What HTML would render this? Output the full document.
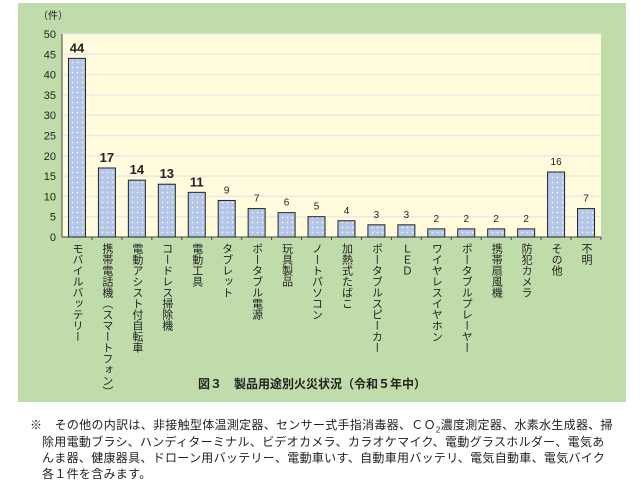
<!DOCTYPE html>
<html><head><meta charset="utf-8"><style>
body{margin:0;width:640px;height:480px;background:#fff;position:relative;overflow:hidden;font-family:"Liberation Sans","Noto Sans CJK JP",sans-serif}
#panel{position:absolute;left:18px;top:3px;width:608px;height:399px;background:#c1dcab}
.note{position:absolute;font-size:12px;color:#222;white-space:nowrap;letter-spacing:0.3px}
</style></head><body>
<div id="panel"></div>
<svg id="chart" width="640" height="480" style="position:absolute;left:0;top:0">
<defs><pattern id="dots" width="5" height="5" patternUnits="userSpaceOnUse"><rect width="5" height="5" fill="#b5c7e8"/><circle cx="2.5" cy="2.5" r="0.7" fill="#fff"/></pattern></defs>
</svg>
<div class="note" style="left:30px;top:416px">※　その他の内訳は、非接触型体温測定器、センサー式手指消毒器、ＣＯ<sub style="font-size:8px">2</sub>濃度測定器、水素水生成器、掃</div>
<div class="note" style="left:42px;top:433px">除用電動ブラシ、ハンディターミナル、ビデオカメラ、カラオケマイク、電動グラスホルダー、電気あ</div>
<div class="note" style="left:42px;top:449px">んま器、健康器具、ドローン用バッテリー、電動車いす、自動車用バッテリ、電気自動車、電気バイク</div>
<div class="note" style="left:42px;top:465px">各１件を含みます。</div>
<script>
const categories=["モバイルバッテリー","携帯電話機（スマートフォン）","電動アシスト付自転車","コードレス掃除機","電動工具","タブレット","ポータブル電源","玩具製品","ノートパソコン","加熱式たばこ","ポータブルスピーカー","ＬＥＤ","ワイヤレスイヤホン","ポータブルプレーヤー","携帯扇風機","防犯カメラ","その他","不明"];
const values=[44,17,14,13,11,9,7,6,5,4,3,3,2,2,2,2,16,7];
const yTicks=[0,5,10,15,20,25,30,35,40,45,50];
const svg=document.getElementById('chart');
const NS='http://www.w3.org/2000/svg';
const X0=62,X1=601,Y0=237,Y1=34,YMAX=50;
const y=v=>Y0-(v/YMAX)*(Y0-Y1);
const step=(X1-X0)/categories.length;
const xc=i=>X0+step*(i+0.5);
function mk(t,a){const e=document.createElementNS(NS,t);for(const k in a)e.setAttribute(k,a[k]);svg.appendChild(e);return e;}
const bg=mk('rect',{x:X0,y:Y1,width:X1-X0,height:Y0-Y1,fill:'#fffbdc'});


yTicks.forEach(t=>{
 if(t>0){const g=mk('line',{x1:X0,x2:X1,y1:y(t),y2:y(t),stroke:'#e6ebe6','stroke-width':1.5});
 
 }
 const l=mk('text',{x:56,y:y(t)+4,'text-anchor':'end','font-size':11,fill:'#222'});l.textContent=t;
 
 
});
const u=mk('text',{x:38,y:19,'font-size':10,fill:'#222'});u.textContent='（件）';


const ax=mk('line',{x1:X0,x2:X0,y1:Y1,y2:Y0,stroke:'#444','stroke-width':1});


const bx=mk('line',{x1:X0,x2:X1,y1:Y0,y2:Y0,stroke:'#444','stroke-width':1});


categories.forEach((c,i)=>{
 const v=values[i],bw=17;
 const r=mk('rect',{x:xc(i)-bw/2,y:y(v),width:bw,height:Y0-y(v),fill:'url(#dots)',stroke:'#222','stroke-width':1});
 
 
 const big=i<5;
 const t=mk('text',{x:xc(i),y:y(v)-(big?6:7),'text-anchor':'middle','font-size':big?13:10,'font-weight':big?'bold':'normal',fill:'#222'});t.textContent=v;
 
 
 const tk=mk('line',{x1:X0+step*(i+1),x2:X0+step*(i+1),y1:Y0,y2:Y0+3,stroke:'#444'});
 
 
 const cl=mk('text',{x:xc(i),y:243,'font-size':11,fill:'#222','writing-mode':'vertical-rl'});cl.textContent=c;
 
 
});
const ti=mk('text',{x:198,y:388,'font-size':12,'font-weight':'bold',fill:'#222'});ti.textContent='図３　製品用途別火災状況（令和５年中）';


</script>
</body></html>
